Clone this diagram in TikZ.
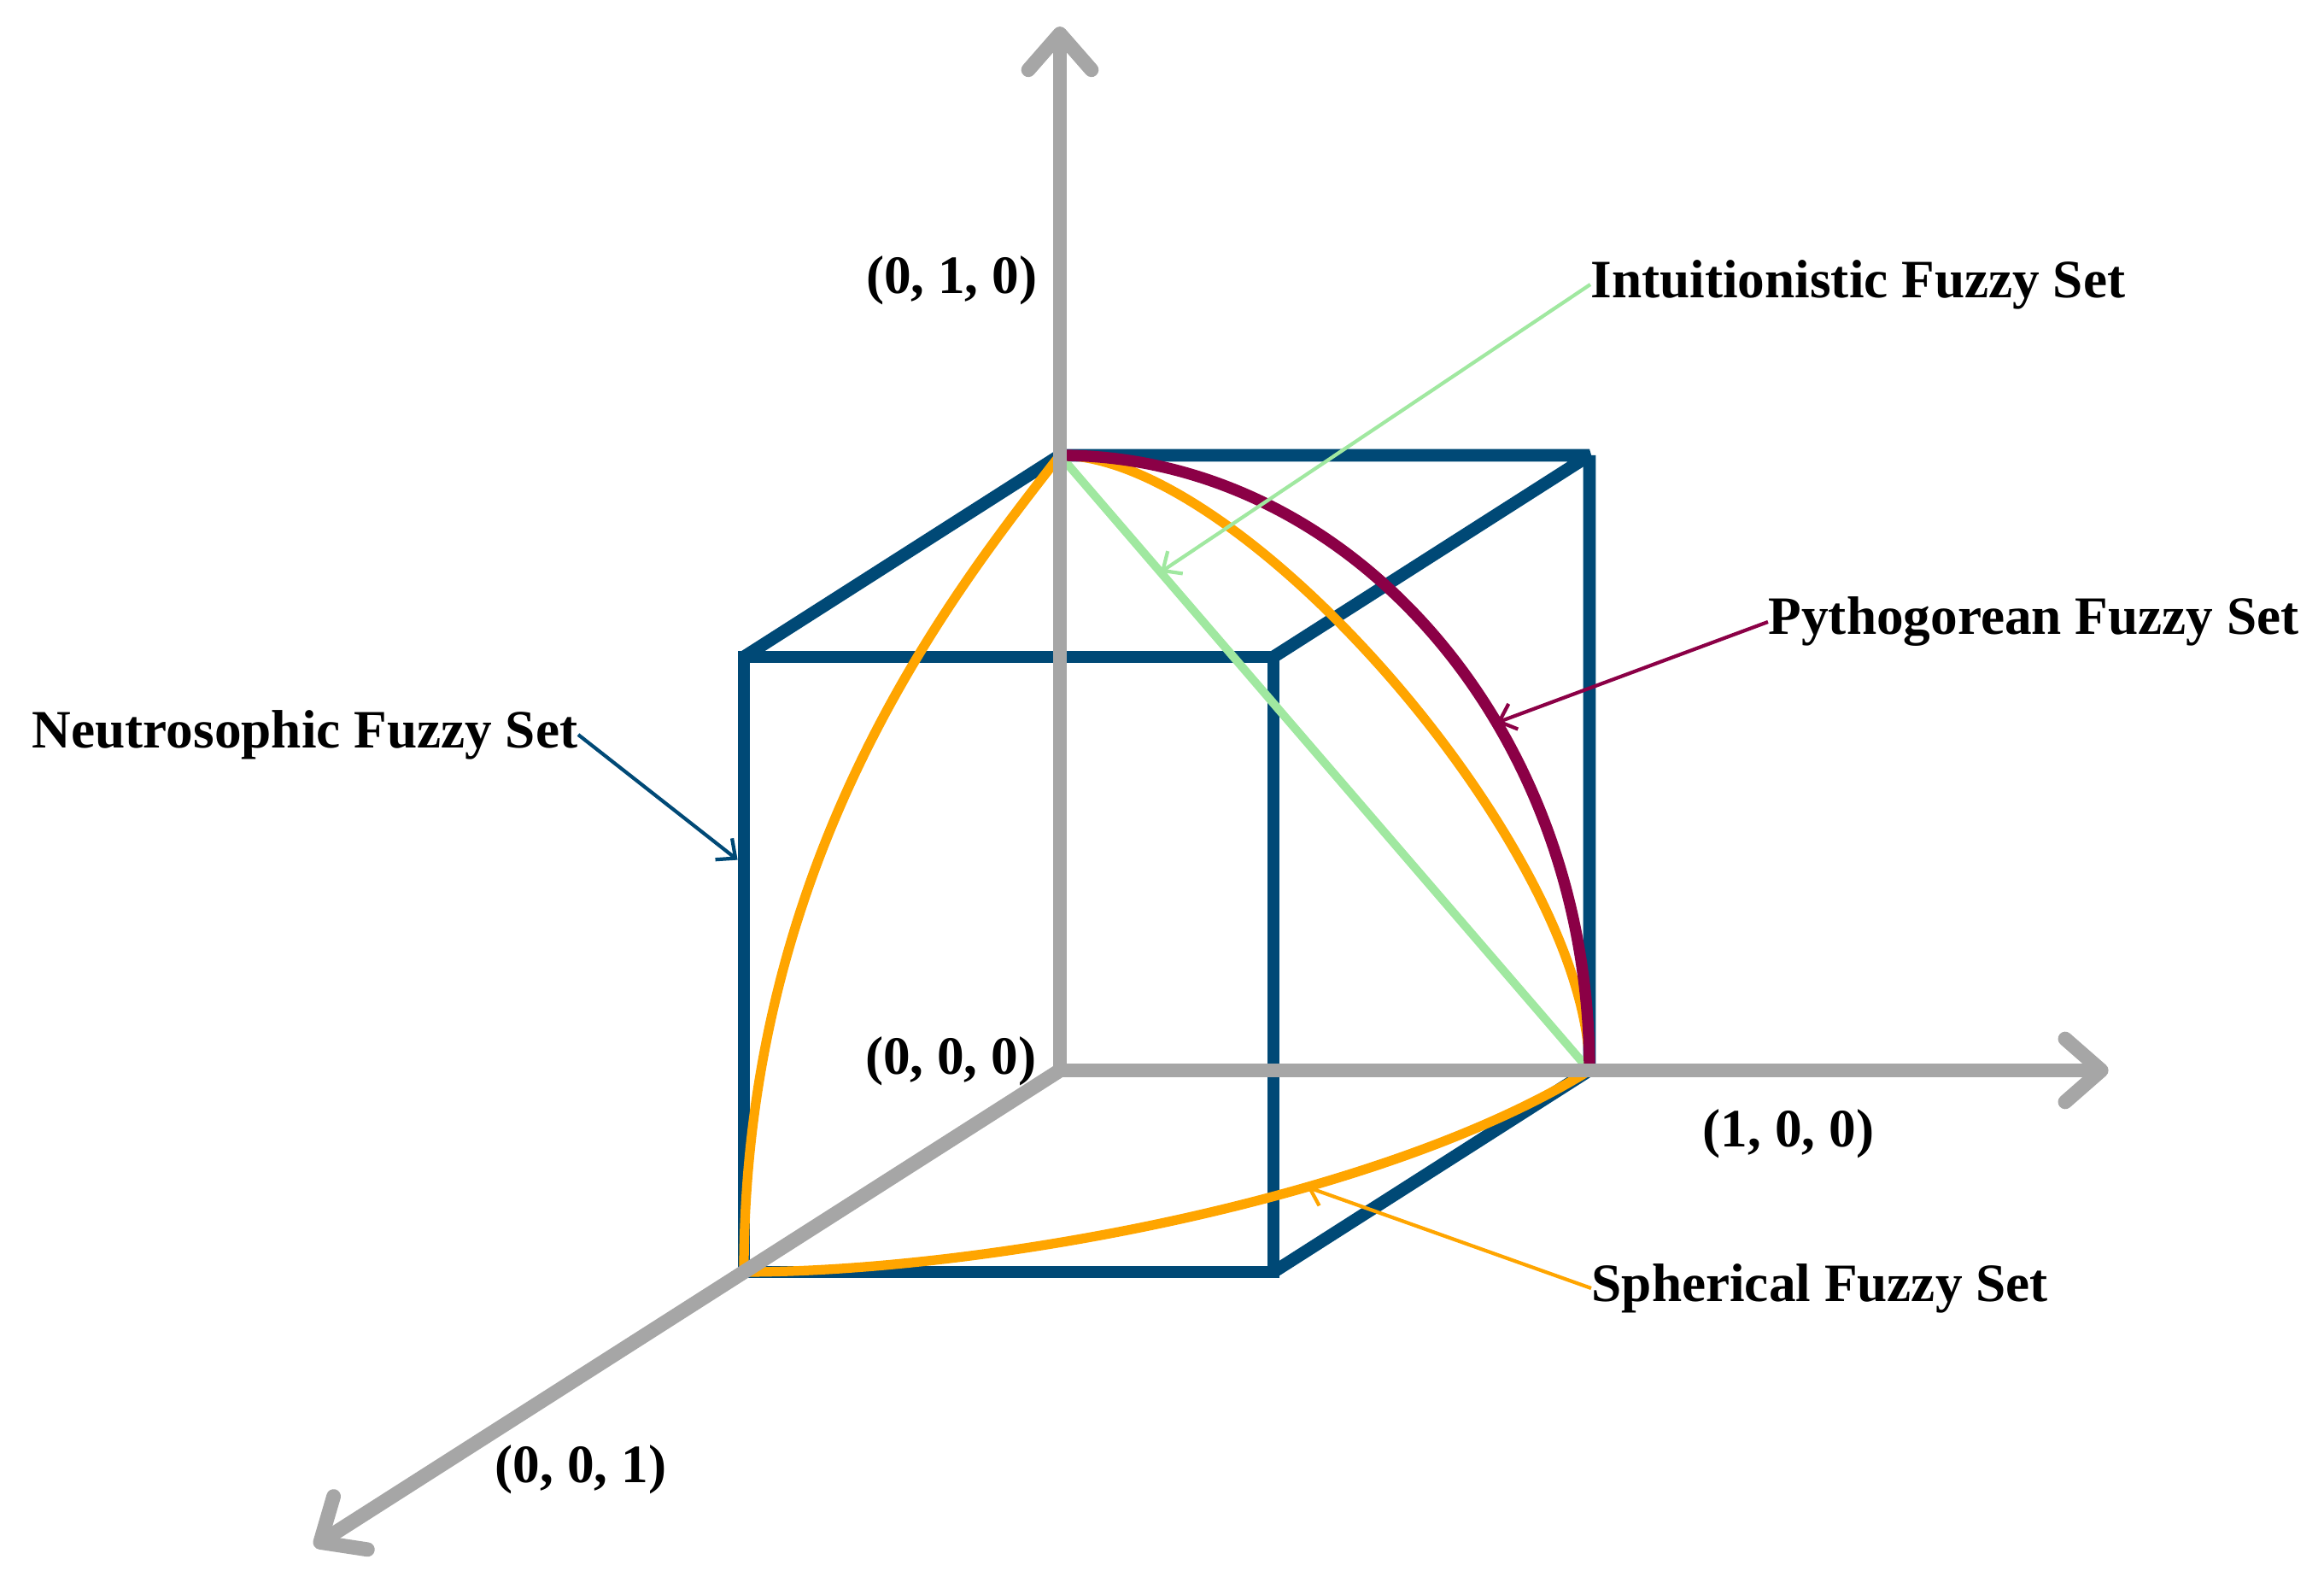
\documentclass[tikz,border=0pt]{standalone}
\usepackage{fontspec}
\setmainfont{Liberation Serif}
\usetikzlibrary{arrows.meta,positioning,calc}

\definecolor{cubeblue}{RGB}{0,73,118}
\definecolor{pythpurple}{RGB}{139,0,70}
\definecolor{spherorange}{RGB}{255,165,0}
\definecolor{intgreen}{RGB}{160,232,160}
\definecolor{axisgray}{RGB}{166,166,166}

\begin{document}
\begin{tikzpicture}[x={(6.2cm,0cm)}, y={(0cm,7.2cm)}, z={(-3.7cm,-2.36cm)},
    >={Straight Barb[length=5pt,width=9pt]},
    axis/.style={axisgray, line width=4.8pt, -{Straight Barb[round,length=12pt,width=21pt]}},
    cube/.style={cubeblue, line width=4.2pt, line join=miter, miter limit=2},
    curve/.style={line width=3.2pt},
    lbl/.style={inner sep=0pt, font=\fontsize{18}{21}\selectfont\bfseries},
    ptr/.style={line width=1.2pt, ->}]
      \useasboundingbox (-12.41cm,-5.86cm) rectangle (14.80cm,12.53cm);

      % corners
      \coordinate (O) at (0,0,0);
      \coordinate (Ax) at (1,0,0);
      \coordinate (Ay) at (0,1,0);
      \coordinate (Az) at (0,0,1);

      % cube
      \draw[cube] (0,0,1) -- (1,0,1) -- (1,1,1) -- (0,1,1) -- cycle;
      \draw[cube] (0,1,1) -- (Ay) -- (1,1,0) -- (1,1,1);
      \draw[cube] (1,1,0) -- (Ax) -- (1,0,1);

      % sets
      \draw[intgreen, line width=2.8pt] (Ay) -- (Ax) coordinate[pos=0.19] (tipI);
      \draw[spherorange, curve] (Ay) .. controls (0.35,1,0) and (1,0.35,0) .. (Ax);
      \draw[pythpurple, curve, line width=3.8pt] (Ay) .. controls (0.552,1,0) and (1,0.552,0) .. (Ax) coordinate[pos=0.62] (tipP);
      \draw[spherorange, curve] (Ay) .. controls (0,0.89,0.33) and (0,0.68,1) .. (Az);
      \draw[spherorange, curve] (Az) .. controls (0.45,0,1) and (0.99,0,0.64) .. (Ax) coordinate[pos=0.64] (tipS);
      \coordinate (tipN) at ($(0,0.67,1)+(-2.1pt,0)$);

      % axes
      \draw[axis] (O) -- (0,1.697,0) coordinate (ytip);
      \draw[axis] (O) -- (1.98,0,0) coordinate (xtip);
      \draw[axis] (O) -- (0,0,2.36) coordinate (ztip);

      % labels
      \node[lbl, anchor=east] (l010) at (-0.26cm,9.25cm) {(0, 1, 0)};
      \node[lbl, anchor=east] (l000) at (-0.27cm,0.11cm) {(0, 0, 0)};
      \node[lbl] (l100) at (8.53cm,-0.74cm) {(1, 0, 0)};
      \node[lbl] (l001) at (-5.61cm,-4.67cm) {(0, 0, 1)};
      \node[lbl, anchor=west] (lint) at (6.21cm,9.20cm) {Intuitionistic Fuzzy Set};
      \node[lbl, anchor=west] (lpyth) at (8.29cm,5.25cm) {Pythogorean Fuzzy Set};
      \node[lbl, anchor=east] (lneu) at (-5.64cm,3.93cm) {Neutrosophic Fuzzy Set};
      \node[lbl, anchor=west] (lsph) at (6.22cm,-2.55cm) {Spherical Fuzzy Set};

      % pointers
      \draw[ptr, intgreen] (lint.west) -- (tipI);
      \draw[ptr, pythpurple] (lpyth.west) -- (tipP);
      \draw[ptr, cubeblue] (lneu.east) -- (tipN);
      \draw[ptr, spherorange] (lsph.west) -- (tipS);
\end{tikzpicture}
\end{document}
